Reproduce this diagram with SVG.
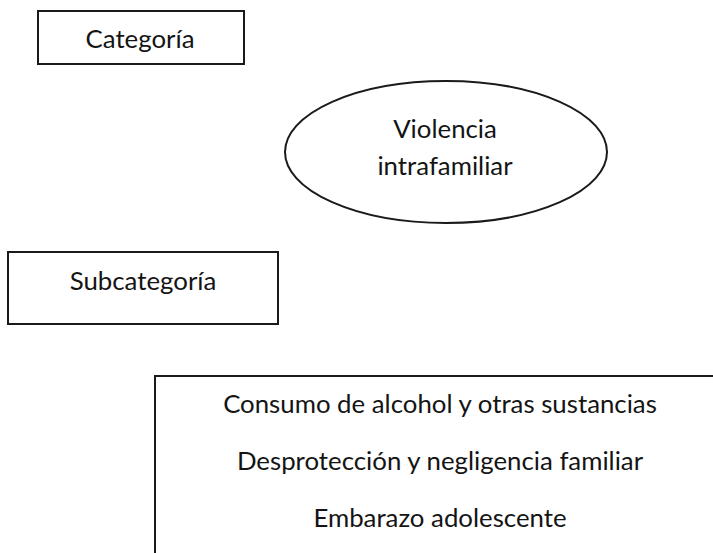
<svg xmlns="http://www.w3.org/2000/svg" width="713" height="553" viewBox="0 0 713 553">
<style>
.box{fill:#fff;stroke:#1a1a1a;stroke-width:2}
.t{font-family:Lato,"Liberation Sans",sans-serif;font-size:25.8px;fill:#141414;text-anchor:middle}
</style>
<rect width="713" height="553" fill="#fff"/>
<g id="categoria">
<rect class="box" x="38" y="11" width="206" height="53"/>
<text class="t" x="140" y="48">Categoría</text>
</g>
<g id="violencia">
<ellipse class="box" cx="446" cy="152" rx="161" ry="71"/>
<text class="t" x="445" y="138">Violencia</text>
<text class="t" x="445" y="175">intrafamiliar</text>
</g>
<g id="subcategoria">
<rect class="box" x="8" y="252" width="270" height="72"/>
<text class="t" x="143" y="290">Subcategoría</text>
</g>
<g id="subcategorias-lista">
<rect class="box" x="155" y="376" width="600" height="220"/>
<text class="t" x="440" y="413">Consumo de alcohol y otras sustancias</text>
<text class="t" x="440" y="470">Desprotección y negligencia familiar</text>
<text class="t" x="440" y="527">Embarazo adolescente</text>
</g>
<g id="connectors"></g>
</svg>
